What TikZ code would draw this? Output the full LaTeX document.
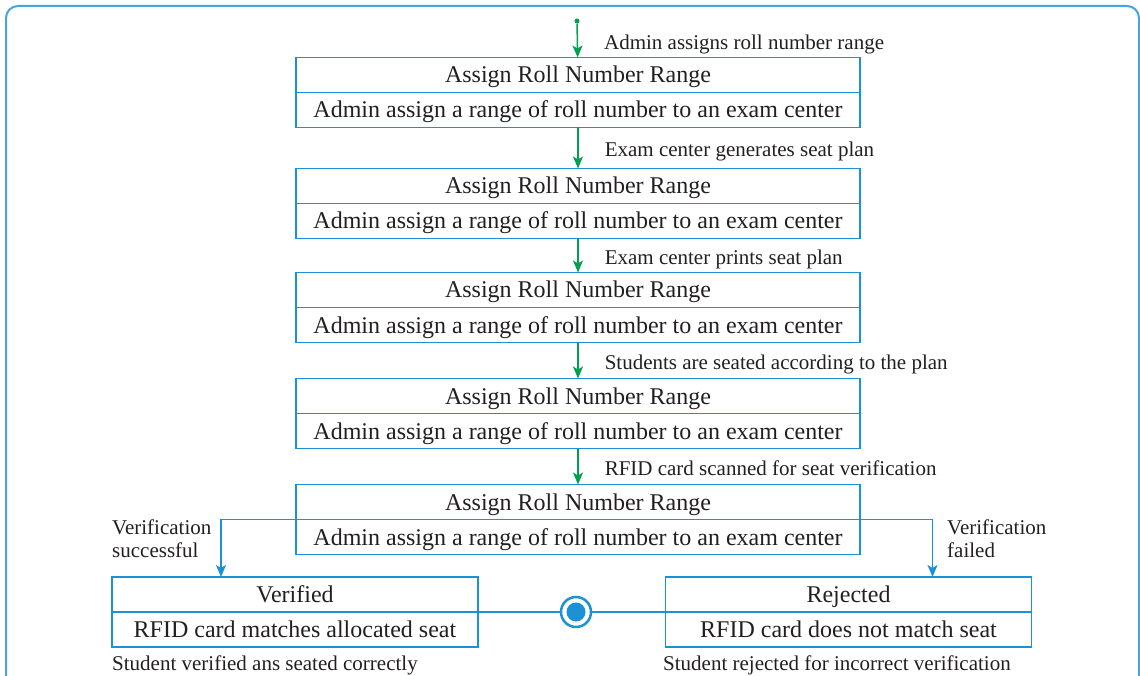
\documentclass[tikz,border=0pt]{standalone}
\usepackage{fontspec}
\setmainfont{Liberation Serif}
\usetikzlibrary{arrows.meta,positioning}
\definecolor{boxblue}{RGB}{28,146,214}
\definecolor{flowgreen}{RGB}{0,160,80}
\definecolor{frameblue}{RGB}{70,165,225}
\definecolor{inkgray}{RGB}{35,31,32}
\begin{document}
\begin{tikzpicture}[x=1pt,y=1pt,
    part/.style={draw=boxblue, line width=1.5pt, minimum width=564pt, minimum height=35pt,
      inner sep=0pt, outer sep=0pt, text height=20pt, text depth=4pt, text=inkgray,
      font=\fontsize{24}{28}\selectfont},
    halfpart/.style={part, minimum width=366pt},
    lbl/.style={inner sep=0pt, text=inkgray, font=\fontsize{21}{23}\selectfont},
    midlbl/.style={lbl, midway, anchor=west, xshift=26pt, yshift=-2pt, text height=18pt, text depth=4pt},
    flow/.style={draw=flowgreen, line width=1.5pt, -{Stealth[length=12pt,width=10pt,inset=3pt]}},
    branch/.style={draw=boxblue, line width=1.5pt, -{Stealth[length=12pt,width=10pt,inset=3pt]}},
    link/.style={draw=boxblue, line width=1.5pt}]
                \useasboundingbox (0,0) rectangle (1140,-676);
                \clip (0,0) rectangle (1140,-676);
                \draw [frameblue, line width=2pt, rounded corners=12pt] (6,-6) rectangle (1139,-700);
                \node [circle, fill=flowgreen, inner sep=0pt, minimum size=5pt] (start) at (577,-21) {};
                \node [part] (t1) at (578,-75) {Assign Roll Number Range};
                \node [part, below=0pt of t1] (b1) {Admin assign a range of roll number to an exam center};
                \node [part] (t2) at (578,-186) {Assign Roll Number Range};
                \node [part, below=0pt of t2] (b2) {Admin assign a range of roll number to an exam center};
                \node [part] (t3) at (578,-290) {Assign Roll Number Range};
                \node [part, below=0pt of t3] (b3) {Admin assign a range of roll number to an exam center};
                \node [part] (t4) at (578,-396) {Assign Roll Number Range};
                \node [part, below=0pt of t4] (b4) {Admin assign a range of roll number to an exam center};
                \node [part] (t5) at (578,-502) {Assign Roll Number Range};
                \node [part, below=0pt of t5] (b5) {Admin assign a range of roll number to an exam center};
                \node [halfpart] (okt) at (295,-594.5) {Verified};
                \node [halfpart, below=0pt of okt] (okb) {RFID card matches allocated seat};
                \node [halfpart] (rejt) at (848.5,-594.5) {Rejected};
                \node [halfpart, below=0pt of rejt] (rejb) {RFID card does not match seat};
                \node [circle, draw=boxblue, line width=2.5pt, minimum size=30pt, inner sep=0pt] (stop) at (576,-612) {};
                \fill [boxblue] (stop) circle (9.5pt);
                \draw [flow] (start) -- (t1) node [midlbl] {Admin assigns roll number range};
                \draw [flow] (b1) -- (t2) node [midlbl] {Exam center generates seat plan};
                \draw [flow] (b2) -- (t3) node [midlbl] {Exam center prints seat plan};
                \draw [flow] (b3) -- (t4) node [midlbl] {Students are seated according to the plan};
                \draw [flow] (b4) -- (t5) node [midlbl] {RFID card scanned for seat verification};
                \draw [branch] (t5.south west) -| ([xshift=109pt]okt.north west);
                \node [lbl, align=left, anchor=north west] (oklbl) at (112,-520) {Verification\\successful};
                \draw [branch] (t5.south east) -| ([xshift=-99pt]rejt.north east);
                \node [lbl, align=left, anchor=north west] (rejlbl) at (947,-520) {Verification\\failed};
                \draw [link] (okt.south east) -- (stop);
                \draw [link] (stop) -- (rejt.south west);
                \node [lbl, anchor=west, text height=18pt, text depth=4pt] (oknote) at (112,-663) {Student verified ans seated correctly};
                \node [lbl, anchor=west, text height=18pt, text depth=4pt] (rejnote) at (663,-663) {Student rejected for incorrect verification};
\end{tikzpicture}
\end{document}
